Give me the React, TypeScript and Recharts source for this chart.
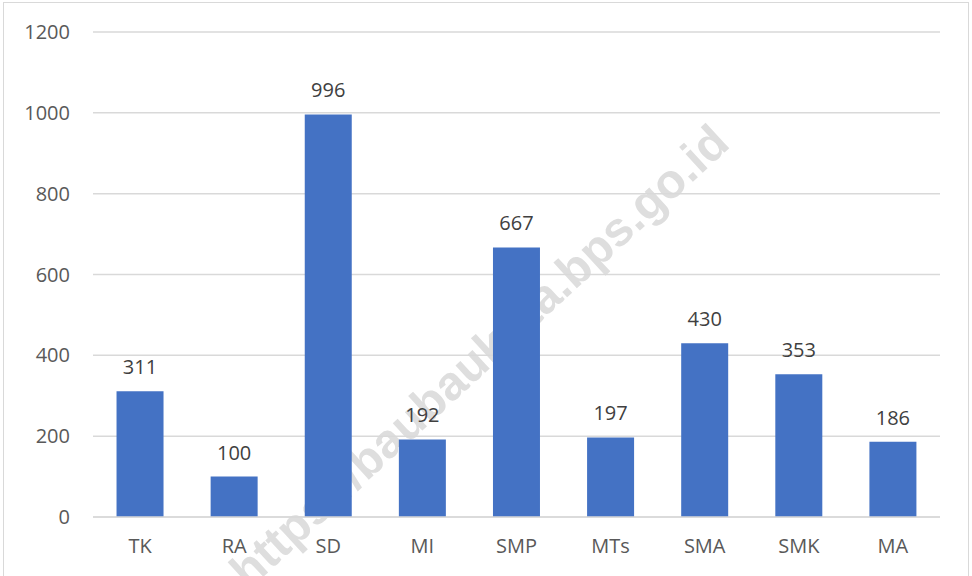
import { Bar, BarChart, CartesianGrid, LabelList, XAxis, YAxis } from "recharts"

const categories = ["TK", "RA", "SD", "MI", "SMP", "MTs", "SMA", "SMK", "MA"]
const counts = [311, 100, 996, 192, 667, 197, 430, 353, 186]
const yTicks = [0, 200, 400, 600, 800, 1000, 1200]

const data = categories.map((name, i) => ({ name, value: counts[i] }))

const FONT = "'Open Sans', 'Noto Sans', sans-serif"

export default function App() {
  return (
    <div
      style={{
        position: "absolute",
        left: 0,
        top: 0,
        width: 972,
        height: 576,
        overflow: "hidden",
        background: "#fff",
      }}
    >
      <div
        style={{
          position: "absolute",
          left: 3,
          top: 2,
          width: 964,
          height: 600,
          border: "1.5px solid #d9d9d9",
        }}
      />
      <div
        style={{
          position: "absolute",
          left: 479,
          top: 356,
          transform: "translate(-50%, -50%) rotate(-42.6deg)",
          fontFamily: "'Liberation Sans', Arial, sans-serif",
          fontWeight: 700,
          fontSize: 48,
          color: "#dedede",
          whiteSpace: "nowrap",
        }}
      >
        https://baubaukota.bps.go.id
      </div>
      <div style={{ position: "absolute", left: 0, top: 0 }}>
        <BarChart
          width={972}
          height={576}
          data={data}
          margin={{ top: 32, right: 32, left: 0, bottom: 0 }}
          barCategoryGap="25%"
        >
          <CartesianGrid vertical={false} stroke="#d9d9d9" strokeWidth={1.5} />
          <XAxis
            dataKey="name"
            axisLine={{ stroke: "#d9d9d9", strokeWidth: 1.5 }}
            tickLine={false}
            height={59}
            tickMargin={16}
            tick={{ fill: "#595959", fontSize: 20, fontFamily: FONT }}
          />
          <YAxis
            domain={[0, 1200]}
            ticks={yTicks}
            width={93}
            axisLine={false}
            tickLine={false}
            tickMargin={17}
            tick={{ fill: "#595959", fontSize: 20, fontFamily: FONT }}
          />
          <Bar dataKey="value" fill="#4472c4" isAnimationActive={false}>
            <LabelList
              dataKey="value"
              position="top"
              offset={17}
              fill="#404040"
              fontSize={20}
              fontFamily={FONT}
            />
          </Bar>
        </BarChart>
      </div>
    </div>
  )
}
